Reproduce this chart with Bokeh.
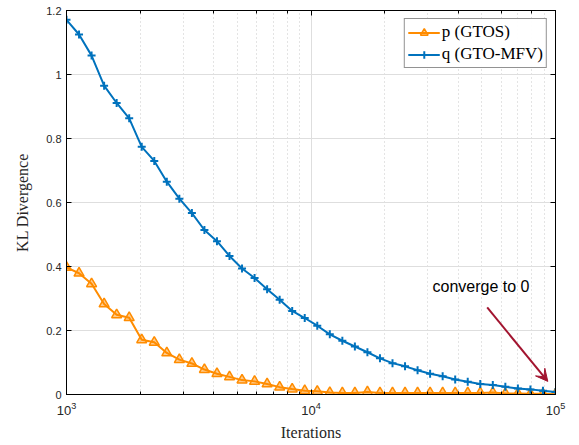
import numpy as np
from bokeh.plotting import figure
from bokeh.models import (Legend, LegendItem, LinearAxis, LogAxis, Arrow, VeeHead,
                          Label, CustomJSTickFormatter, FixedTicker, Range1d)
from bokeh.embed import file_html
from bokeh.resources import INLINE

# ---- data ----
iterations = np.logspace(3, 5, 40)
p_gtos = [0.397, 0.379, 0.346, 0.283, 0.249, 0.240, 0.171, 0.163, 0.130, 0.109,
          0.097, 0.078, 0.065, 0.055, 0.045, 0.041, 0.033, 0.023, 0.017, 0.012,
          0.010, 0.006, 0.005, 0.005, 0.008, 0.005, 0.005, 0.005, 0.005, 0.005,
          0.005, 0.005, 0.005, 0.005, 0.006, 0.003, 0.003, 0.002, 0.002, 0.001]
q_gtomfv = [1.171, 1.125, 1.059, 0.965, 0.911, 0.863, 0.774, 0.730, 0.665, 0.612,
            0.567, 0.514, 0.479, 0.433, 0.394, 0.364, 0.329, 0.296, 0.261, 0.239,
            0.215, 0.188, 0.168, 0.150, 0.132, 0.113, 0.098, 0.088, 0.076, 0.065,
            0.057, 0.047, 0.040, 0.033, 0.030, 0.024, 0.019, 0.016, 0.012, 0.008]
y_ticks = [0, 0.2, 0.4, 0.6, 0.8, 1.0, 1.2]
y_tick_labels = {0: "0", 0.2: "0.2", 0.4: "0.4", 0.6: "0.6", 0.8: "0.8", 1.0: "1", 1.2: "1.2"}

ORANGE = "#FF8C00"
BLUE = "#0072BD"
ARROW = "#A2142F"

p = figure(width=571, height=443, x_axis_type="log",
           x_range=Range1d(1e3, 1e5), y_range=Range1d(0, 1.2),
           output_backend="svg", toolbar_location=None,
           min_border_left=66, min_border_right=16, min_border_top=10, min_border_bottom=48)
p.outline_line_color = "black"
p.outline_line_width = 1
p.background_fill_color = "white"

# grids
p.ygrid.ticker = FixedTicker(ticks=y_ticks)
p.ygrid.grid_line_color = "#DEDEDE"
p.xgrid.grid_line_color = "#DEDEDE"
p.xgrid.minor_grid_line_color = "#C8C8C8"
p.xgrid.minor_grid_line_dash = "1 3"

# axes
for ax in (p.xaxis[0], p.yaxis[0]):
    ax.axis_line_color = "black"
    ax.major_tick_in = 5
    ax.major_tick_out = 0
    ax.minor_tick_in = 3
    ax.minor_tick_out = 0
    ax.major_label_text_font = "Liberation Sans"
    ax.major_label_text_font_size = "11px"
    ax.major_label_text_color = "#262626"
    ax.axis_label_text_font = "Liberation Serif"
    ax.axis_label_text_font_size = "16px"
    ax.axis_label_text_font_style = "normal"
    ax.axis_label_text_color = "#262626"
p.xaxis.major_label_text_font_size = "13px"
p.xaxis.major_label_standoff = 7
p.yaxis.ticker = FixedTicker(ticks=y_ticks)
p.yaxis.major_label_overrides = y_tick_labels
p.yaxis.minor_tick_line_color = None
p.xaxis.axis_label = "Iterations"
p.yaxis.axis_label = "KL Divergence"
p.xaxis.axis_label_standoff = 6
p.yaxis.axis_label_standoff = 12

# box ticks (right/top)
blank = CustomJSTickFormatter(code="return ''")
right_ax = LinearAxis(ticker=FixedTicker(ticks=y_ticks), formatter=blank,
                      major_tick_in=5, major_tick_out=0, minor_tick_line_color=None,
                      axis_line_color="black", major_label_standoff=0)
top_ax = LogAxis(formatter=blank, major_tick_in=5, major_tick_out=0,
                 minor_tick_in=3, minor_tick_out=0, axis_line_color="black",
                 major_label_standoff=0)
p.add_layout(right_ax, "right")
p.add_layout(top_ax, "above")

# series
lp = p.line(iterations, p_gtos, line_color=ORANGE, line_width=2)
sp = p.scatter(iterations, p_gtos, marker="triangle", size=10, line_color=ORANGE,
               line_width=1.5, fill_color=ORANGE, fill_alpha=0.45)
lq = p.line(iterations, q_gtomfv, line_color=BLUE, line_width=2)
sq = p.scatter(iterations, q_gtomfv, marker="cross", size=8, line_color=BLUE, line_width=2)

legend = Legend(items=[LegendItem(label="p (GTOS)", renderers=[lp, sp]),
                       LegendItem(label="q (GTO-MFV)", renderers=[lq, sq])],
                location="top_right")
legend.label_text_font = "Liberation Serif"
legend.label_text_font_size = "17px"
legend.label_text_color = "black"
legend.border_line_color = "#262626"
legend.border_line_width = 1
legend.glyph_width = 32
legend.glyph_height = 19
legend.label_standoff = 2
legend.spacing = 2
legend.padding = 3
legend.margin = 8
p.add_layout(legend)

# annotation
p.add_layout(Label(x=31400, y=0.336, text="converge to 0", text_font="Liberation Sans",
                   text_font_size="16px", text_color="black", text_baseline="middle"))
p.add_layout(Arrow(x_start=52560, y_start=0.272, x_end=93000, y_end=0.041,
                   line_color=ARROW, line_width=2,
                   end=VeeHead(size=12, line_color=ARROW, fill_color=ARROW, line_width=1)))

open("out.html", "w").write(file_html(p, INLINE))
